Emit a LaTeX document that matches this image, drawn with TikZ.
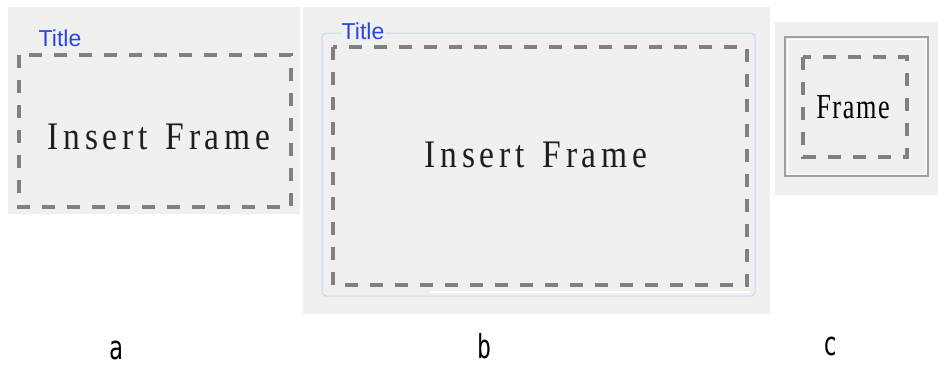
\documentclass[tikz,border=0pt]{standalone}
\usepackage{fontspec}
\setmainfont{Liberation Serif}
\newfontfamily\titlefont{Liberation Sans}
\newfontfamily\framefont[LetterSpace=14]{Liberation Serif}
\newfontfamily\smallframefont[LetterSpace=6]{Liberation Serif}
\newfontfamily\labfont{DejaVu Sans Mono}
\definecolor{panelbg}{RGB}{240,240,240}
\definecolor{dashgray}{RGB}{128,128,128}
\definecolor{titleblue}{RGB}{40,70,230}
\definecolor{framblue}{RGB}{200,216,232}
\definecolor{framgray}{RGB}{160,160,160}
\definecolor{textdark}{RGB}{30,30,30}
\tikzset{
  panel/.style={fill=panelbg,draw=none},
  dashbox/.style={draw=dashgray,line width=3.5pt,dash pattern=on 13pt off 12pt},
  titletext/.style={font=\titlefont\fontsize{23}{23}\selectfont,text=titleblue,inner sep=1pt},
  bigtext/.style={font=\framefont\fontsize{39}{39}\selectfont,text=textdark,inner sep=0pt},
  labtext/.style={font=\labfont\fontsize{33}{33}\selectfont,text=black,inner sep=0pt}
}
\begin{document}
\begin{tikzpicture}[x=1pt,y=-1pt]
\useasboundingbox[fill=white] (0,0) rectangle (938,367);
% panel a
\fill[panel] (8,7) rectangle (300,214);
\draw[dashbox] (19,55) rectangle (291,207);
\node[titletext] (ta) at (60,38) {Title};
\node[bigtext] (fa) at (159,137) {\scalebox{0.86}[1]{Insert\hspace{6pt} Frame}};
% panel b
\fill[panel] (303,7) rectangle (770,314);
\draw[draw=framblue,line width=1pt,rounded corners=4pt] (322,33) rectangle (755,296);
\draw[white,line width=1.2pt] (430,292) -- (750,292);
\draw[dashbox] (333,47) rectangle (747,285);
\node[titletext,fill=panelbg] (tb) at (363,31) {Title};
\node[bigtext] (fb) at (536,155) {\scalebox{0.86}[1]{Insert\hspace{6pt} Frame}};
% panel c
\fill[panel] (775,22) rectangle (938,195);
\draw[draw=framgray,line width=1.2pt] (785,37) rectangle (928,176);
\draw[draw=white,line width=0.8pt] (787,39) rectangle (926,174);
\draw[dashbox] (803,57) rectangle (907,157);
\node[font=\smallframefont\fontsize{35}{35}\selectfont,text=black,inner sep=0pt] (fc) at (853,107) {\scalebox{0.75}[1]{Frame}};
% labels
\node[labtext] (la) at (116,350) {\scalebox{0.7}[1]{a}};
\node[labtext] (lb) at (484,346) {\scalebox{0.7}[1]{b}};
\node[labtext] (lc) at (830,346) {\scalebox{0.7}[1]{c}};
\end{tikzpicture}
\end{document}
